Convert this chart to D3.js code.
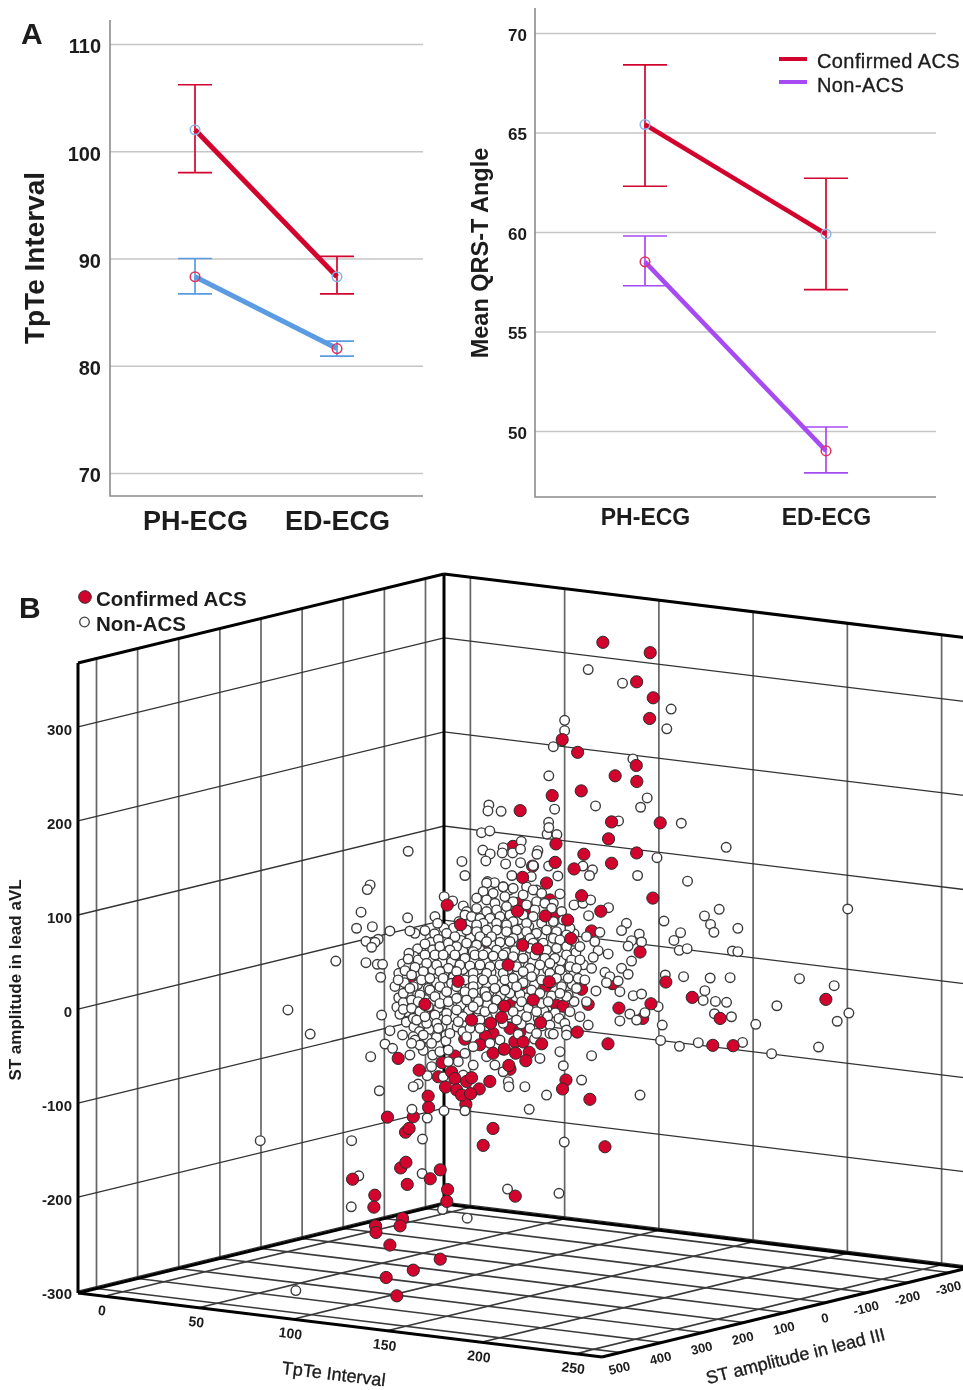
<!DOCTYPE html>
<html>
<head>
<meta charset="utf-8">
<style>
  html, body { margin: 0; padding: 0; background: #fff; }
  svg { display: block; font-family: "Liberation Sans", Arial, sans-serif; }
</style>
</head>
<body>
<svg id="chart" width="963" height="1390"></svg>
<script src="https://d3js.org/d3.v7.min.js"></script>
<script>

// panel A
var visits = ["PH-ECG", "ED-ECG"];

var tpteTicks = [70, 80, 90, 100, 110];
var tpteConfirmed = [102, 88.3],
    tpteConfirmedLow = [98, 86.7],
    tpteConfirmedHigh = [106.2, 90.2];
var tpteNonAcs = [88.3, 81.6],
    tpteNonAcsLow = [86.7, 80.9],
    tpteNonAcsHigh = [90, 82.3];

var angleTicks = [50, 55, 60, 65, 70];
var angleConfirmed = [65.4, 59.9],
    angleConfirmedLow = [62.3, 57.1],
    angleConfirmedHigh = [68.4, 62.7];
var angleNonAcs = [58.5, 49],
    angleNonAcsLow = [57.3, 47.9],
    angleNonAcsHigh = [59.8, 50.2];

// panel B axes
var cubeTpteTicks = [0, 50, 100, 150, 200, 250];
var cubeLeadIIITicks = [500, 400, 300, 200, 100, 0, -100, -200, -300];
var cubeAvlTicks = [-300, -200, -100, 0, 100, 200, 300];

// panel B points. A 3D cloud only gives two readable numbers per point, so these
// are [TpTe, ST aVL] as read flat off the picture against the wall grid and the aVL axis
var acsBehind = [[41.3,61],[10.3,66],[27.2,26.6],[17.4,22],[40,24.5],[59,21],[62.5,5],[91.4,-10],[45.7,4],[49.2,3],
  [40.4,-7],[-1.2,-5.7],[21.9,5],[12,-26],[8,-29],[-3,-32],[5,-38],[-8.2,-50],[-15,-57],[-17,-72],[21,-64],
  [-2.4,-101.4],[-30.3,-114.6],[-34.4,-131],[42.2,116],[45.4,101],[64.3,83],[75.4,27],[25.4,112.5],[29.8,107],
  [-31.2,29],[-7.3,52],[-19.7,-1],[21,-20.5],[26.3,-24],[23.6,-34.7],[75.8,27.3],[22.6,173],[33,152]];

var nonAcs = [[62.5,361],[80.7,346.5],[106.5,319],[104.2,298],[50,307],[50,296],[44,279],[86.2,266],[41.6,248],
  [93.8,224.5],[90.3,214.6],[66.4,216],[44.7,212.5],[9.8,217],[9.3,210.7],[16.3,210.3],[78.6,200],[111.9,197.6],
  [41.5,198.6],[40.7,186],[41.6,193],[45.9,185.5],[5.9,187.6],[10.3,189.4],[27,178.4],[-33,167.8],[6.6,169],
  [17.4,171.6],[16.9,166],[10.5,165],[22.4,166],[26.6,170],[35.8,168.4],[35.3,164.6],[-4.5,157],[8.2,157.5],
  [18.7,154.3],[26.6,155.7],[33.3,152.5],[41.5,152],[59.7,152],[64.8,148],[63.2,142],[99,161],[88.7,142],
  [115.2,136],[46.4,141.5],[-2.9,142],[-53.2,132],[-54.7,127],[-58,103],[-33.3,97],[-13.9,119.5],[-9.4,115],
  [22,142],[32.3,140.8],[9.1,135.5],[12.8,134.4],[17.4,130],[20.6,126.6],[29.8,130],[35.1,126.6],
  [55,110.7],[59.7,112.5],[63.8,116],[73.3,107.8],[62.7,99.3],[102.7,93.6],
  // the dense middle of the cloud, filler read by eye where single circles cannot be told apart
  [-6,93],[-9,86],[-14,86],[0,92],[11,90],[17,93],[26,95],[31,88],[41,90],
  [-19,80],[-5,80],[0,76],[7,79],[16,78],[26,79],[38,77],[48,86],[55,80],
  [-21,71],[-14,72],[-5,73],[6,72],[12,68],[18,66],[28,70],[36,67],[43,69],[55,72],
  [-28,64],[-20,63],[-13,60],[-4,62],[5,63],[9,60],[19,60],[27,62],[35,60],[42,58],[48,60],[56,60],
  [-36,48],[-30,56],[-21,52],[-15,50],[-10,50],[-4,50],[2,52],[8,50],[14,51],[21,50],[26,49],[33,50],[38,48],[48,51],[60,47],
  [-38,38],[-33,44],[-27,37],[-20,42],[-14,38],[-9,34],[-4,42],[4,42],[11,39],[20,42],[25,36],[34,40],[41,42],[49,36],[55,38],
  [-40,24],[-35,28],[-28,26],[-18,28],[-12,25],[-5,26],[4,27],[9,25],[16,26],[28,28],[34,26],[43,28],[54,26],
  [-38,12],[-33,16],[-24,10],[-20,8],[-14,14],[-9,17],[-4,13],[3,12],[10,18],[16,14],[24,13],[30,12],[35,10],[43,14],[55,8],
  [-39,2],[-34,-3],[-28,2],[-24,-5],[-17,1],[-11,2],[-5,4],[-1,-2],[4,0],[9,5],[16,6],[26,3],[33,4],[39,-2],[45,-4],
  [-34,-14],[-30,-19],[-25,-16],[-20,-11],[-15,-18],[-9,-8],[-4,-8],[2,-14],[9,-9],[20,-6],[27,-16],[36,-10],[41,-8],[47,-10],
  [-27,-24],[-22,-22],[-13,-28],[-7,-19],[-4,-24],[34,-32],[38,-18],[-23,-31],[-18,-30],[-25,-44],[-20,-49],[-13,-34],
  [8.6,134],[12.1,123],[6.8,125],[3.3,118],[17.4,130],[22.7,128.4],[28,121.3],[33.3,126.7],[37.8,123],[47.5,122.4],[44,112.5],
  [-3.8,109.6],[-2,103.6],[3.3,107],[8.6,116],[13,112.5],[18.3,119.6],[22.7,114.2],[29.8,110.7],[35.1,114.2],[39.5,112.5],
  [48.4,103.6],[19.2,109],[8.6,103.6],[13.9,105.4],[34.2,105.4],[43.1,107.2],
  [-18.8,98.3],[-17.4,91.2],[-2.9,100],[0.6,98.3],[5.1,96.5],[10.4,96.5],[15.7,98.3],[21,100],[28,100],[33.3,98.3],
  [37.8,91.2],[44,93],[49.3,94.7],[6.8,91.2],[13.9,91.2],[22.7,93],[29.8,91.2],[3.3,89.4],[52.8,85.9],[19.2,89.4],
  [-24.1,83.4],[-29.4,80.5],[-32.1,83],[-42.7,83],[-60.4,85.9],[-52,87.6],[-17,74.2],[-12.6,80.5],[-8.2,77],[-2,84],
  [3.3,82.3],[8.6,84],[13.9,84],[19.2,82.3],[24.5,84],[29.8,82.3],[35.1,80.5],[40.4,84],[45.7,82.3],[51,78.8],
  [5.1,77],[11.2,77],[22.7,75.2],[31.6,75.2],[44,75.2],[47.5,73.5],[61.6,77],[68.7,81.6],[66,71.7],[82.8,91.2],
  [80.2,83.4],[89.6,79.8],[85.5,72.7],[90.8,71.3],[83.7,67],
  [-55.4,72],[-48.9,74.2],[-50.6,71],[-52.4,65.7],[-24.1,69.2],[-16.2,66.4],[-11.7,70],[-7.3,66.4],[-2,70],[3.3,68.1],
  [8.6,71.7],[15.7,71],[21,71.7],[33.3,70],[38.6,70],[45.7,64.6],[51,66.4],[58.1,66.4],[67.8,62.1],[73.1,58.6],
  [-10.9,62.8],[1.5,61],[13.9,62.8],[23.6,62.1],[31.6,64.6],[40.4,62.8],
  [-32.6,59.3],[-33,53.2],[-27.7,52.2],[-24.1,57.5],[-18.8,57.5],[-14.4,57.5],[-8.2,57.5],[-2.9,54],[2.4,57.5],[6.8,57.5],
  [12.1,56.4],[17.4,57.5],[22.7,55.7],[28,54],[34.2,57.5],[39.5,54],[44.8,54],[51,57.5],[53.7,52.2],[58.1,52.2],
  [65.2,55],[85.5,51],[-55.4,49.3],[-49.4,47.6],[-46.6,47.6],
  [-34.7,40.8],[-29.4,44.4],[-23.2,48.6],[-17.9,46.9],[-11.7,43.3],[-5.6,46.9],[-0.2,45.8],[5.1,46.9],[10.4,45],[15.7,46.9],
  [24.5,45],[31.6,43.3],[36.9,46.9],[42.2,48.6],[47.5,41.5],[52.8,45],[56.3,43.3],[64.3,43.3],[80.2,43.3],[83.7,37],
  [71.4,39],[-47.6,33.7],[-25,39.8],[-16.2,39.8],[-7.3,39.8],[1.5,38],[8.6,38],[17.4,38],[28,39.8],[42.2,38],
  [-38.3,30.9],[-31.2,36.2],[-25.9,30.9],[-21.5,32.7],[-14.4,32.7],[-10,27.3],[-2.9,30.9],[1.5,30.9],[6.8,30.9],[12.1,30.9],
  [18.3,30.9],[22.7,32.7],[32.5,34.4],[37.8,30.9],[45.7,32.7],[51.9,32.7],[57.2,32.7],[60.7,30.9],[74,34.4],[72.2,28],
  [78.4,29.8],[-30.3,23.8],[-22.3,22],[-16.2,23.8],[1.5,23.8],
  [-35.6,16.7],[-32.1,22],[-26.8,15],[-21.5,20.2],[-12.6,18.5],[-7.3,23.8],[-2.9,18.5],[1.5,16.7],[7.7,18.5],[13,22],
  [21,16.7],[26.3,15.6],[32.5,20.2],[36.9,16.7],[48.4,23.8],[51.9,15],[56.3,22],[66.6,19.2],[79.3,18.5],[24.5,23.8],[18.3,20.2],
  [-35.6,6.8],[-31.2,9.6],[-27.7,7.8],[-18.8,13.2],[-16.2,6],[-11.7,7.8],[-7.3,11.4],[-2,9.6],[4.2,7.8],[8.6,13.2],
  [13.9,9.6],[27.2,7.8],[37.8,6],[41.3,7.8],[51,13.2],[47.5,16.7],[86.4,14.2],[90.8,16],[61.6,7.8],
  [-47.1,-6.4],[-37.4,-5.6],[-35.6,-0.3],[-31.2,0.7],[-26.8,-2.8],[-22.3,2.5],[-18.8,-6.4],[-12.6,-4.6],[-7.3,-1],[1.5,2.5],
  [7.7,-2.8],[12.1,0.7],[22.7,-2.8],[30.7,0.7],[35.1,-2.8],[52.8,-2.8],[84.6,-5.3],[92.6,-3.9],[88.2,-11.7],[79.3,-12.7],
  [99.6,2.5],[-30.3,-9.9],
  [-23.2,-15.2],[-17.9,-15.2],[-12.6,-11.7],[-6.4,-13.5],[-0.2,-20.5],[5.1,-11.7],[17.4,-15.2],[24.5,-11.7],[29.8,-8.1],
  [42.2,-17],[50.1,-15.2],[58.1,-8.1],[62.5,-17],[-42.7,-23],[-28.5,-11.7],[-24.1,-8.1],
  [-36,-27.6],[-30.3,-29.4],[-25,-27.6],[-17,-20.5],[-10.9,-25.9],[-2,-29.4],[5.1,-20.5],[25.4,-26.9],[31.6,-20.5],
  [35.1,-25.9],[42.2,-25.9],[51,-22.3],[44,-26.6],[51,-27.6],[-20.6,-36.5],[-29.4,-33],
  [-45.3,-37.2],[-41.3,-41.8],[-26.8,-38.3],[-31.2,-36.5],[-16.2,-45.4],[-11.7,-43.6],[1.5,-40],[10.4,-36.5],[15.7,-33],
  [17.4,-43.6],[23.6,-45.4],
  [-52.9,-50.7],[-32.1,-48.9],[-20.6,-61.3],[-11.7,-56],[-6.4,-56],[1.5,-59.6],[8.6,-50.7],[13,-59.6],[17.4,-66.7],
  [36.9,-52.5],[47.5,-45.4],[49.3,-60.3],[64.3,-49.6],[-2.9,-47.1],
  [-22.9,-70.9],[-27.7,-79.8],[-30.3,-82.6],[-3.8,-70.2],[-14.4,-72],[20.1,-77.3],[20.4,-82.6],[28.9,-82.6],[40.4,-91.5],
  [59,-75.5],[-48.3,-86.9],[90,-91.5],
  [31.2,-106.7],[-14,-108.2],[-31,-106.7],[-22.9,-116],[-2.9,-108.2],[-25.4,-138.3],[-63,-140],[49.8,-141.5],
  [-111.5,-140],[-59.2,-177.4],[-25.6,-175],[19.7,-191.5],[47,-196],[-63.2,-210.3],[-14.8,-213.2],[-1.7,-222.4],[-92.6,-299.4],
  [135.7,172],[200.2,106.4],[132,106],[124.2,99],[127.4,90],[129.2,81.6],[141.9,85.8],[111.5,81.2],[108,73],[110.8,62.4],
  [115,64.2],[139,61.7],[141.9,61],[103.4,36.2],[113.1,34.4],[127.2,33],[137.8,33.3],[174.6,32.3],[193,24.8],[124.4,19.5],
  [123.5,9.2],[130,8.1],[135.9,7.1],[162.6,3.5],[129.5,-5],[138.5,-8.2],[101.8,-17],[151.4,-16.3],[200.8,-4.3],[194.6,-13],
  [100.9,-33.4],[110.9,-39.7],[120.9,-35.8],[144.4,-35.5],[159.8,-47.5],[184.7,-40.4],
  [-96.8,-1],[-85,-26.6],[-71.4,51]];

var acsFront = [[70.3,390],[95.4,379],[88.2,348],[97,331],[95.1,309],[48.7,286.5],[56.9,273],[88,259],[76.8,248],[88.3,242],
  [58.8,232],[43.4,227],[26.4,211],[74.9,199],[100.7,198],[73.3,181],[45.4,175.6],[88.2,166],[60.2,164.6],[45,156],
  [74.9,155],[55,149],[27.7,140],[40.4,134],[59,120.5],[96.8,118],[69.2,104],[-12.3,110.6],[25,104],[39.7,99],
  [51.6,94.7],[-5.2,89.7],[53.3,75],[27.7,67.8],[35.6,64],[90,60.6],[20,46.8],[-6.5,29.5],[41.8,29],[33.3,9.6],
  [-24.1,5],[78.8,1],[95.8,5.6],[18,3],[0.6,-11.7],[16.5,-9],[37.2,-14.5],[10.7,-15],[56.7,-24.5],[28,-35],
  [37.8,-37],[73,-37],[18,-42.6],[12,-47],[24,-47],[31.2,-46],[29.4,-55],[-38.3,-52.5],[-27.2,-65],[20.4,-60],
  [-10,-67],[-8.2,-74],[-2,-77],[0.6,-73],[10.3,-77],[50.7,-75.5],[48.9,-85],[4.7,-85],[-13.2,-83],[-7.3,-86],
  [-4.7,-91.5],[0.1,-90],[63.4,-96],[-22.4,-92.6],[-22.2,-104.6],[-44,-115],[-32.5,-127],[12,-127],[6.8,-145],[71.4,-146.5],
  [-62.5,-181],[-37,-169],[-34.2,-163],[-33.5,-186.5],[-16,-171],[-21.3,-180.5],[-12.1,-192],[-12.5,-204.6],[23.8,-199],
  [-50.7,-198],[-51.2,-210.7],[-36,-222.7],[-37.3,-230.6],[-50.3,-230.6],[-50.1,-237.6],[-42.7,-251],[-16,-266],
  [-30.3,-277.7],[-44.7,-285.5],[-39,-305],[103.7,28.7],[117.7,12.4],[188.6,10.3],[132.5,-10],[128.6,-38.6],[139.4,-39]];

var acsRed = "#d2042d", nonAcsBlue = "#5a9be2", nonAcsPurple = "#a64bf4", markerBlue = "#86b6ec", markerRed = "#e2335c",
    ink = "#1c1c1c";

var svg = d3.select("#chart");
var page = svg.append("g").style("filter", "blur(0.4px)");

function label(text, x, y, size, opts) {
  opts = opts || {};
  var t = page.append("text")
      .attr("transform", "translate(" + x + "," + y + ") rotate(" + (opts.rotate || 0) + ")")
      .attr("text-anchor", opts.anchor || "middle")
      .attr("font-size", size)
      .attr("font-weight", opts.weight || "bold")
      .attr("fill", ink)
      .text(text);
  // the figure's medium weight sits between regular and bold
  if (opts.weight) t.attr("stroke", ink).attr("stroke-width", 0.35);
  return t;
}

// one means plot: grid, axes, error bars, mean lines and the hollow markers
function meansPlot(cfg) {
  var g = page.append("g");
  var y = d3.scaleLinear().domain(cfg.yDomain).range(cfg.yRange);
  var x = d3.scalePoint().domain(visits).range(cfg.xRange);

  var yAxis = g.append("g")
      .attr("transform", "translate(" + cfg.left + ",0)")
      .call(d3.axisLeft(y).tickValues(cfg.ticks).tickSize(-(cfg.right - cfg.left)).tickPadding(cfg.tickPad));
  yAxis.select(".domain").remove();
  yAxis.selectAll("line").attr("stroke", "#c6c6c6").attr("stroke-width", 1.6);
  yAxis.selectAll("text").attr("font-family", "Liberation Sans").attr("font-size", cfg.tickSize)
      .attr("font-weight", "bold").attr("fill", ink).attr("dy", "0.44em");

  var xAxis = g.append("g")
      .attr("transform", "translate(0," + cfg.bottom + ")")
      .call(d3.axisBottom(x).tickSize(0).tickPadding(cfg.catPad));
  xAxis.select(".domain").remove();
  xAxis.selectAll("text").attr("font-family", "Liberation Sans").attr("font-size", cfg.catSize)
      .attr("font-weight", "bold").attr("fill", ink);

  g.append("path")
      .attr("d", "M" + cfg.left + "," + cfg.top + "V" + cfg.bottom + "H" + cfg.right)
      .attr("fill", "none").attr("stroke", "#8c8c8c").attr("stroke-width", 1.6);

  var line = d3.line().x(function(d, i) { return x(visits[i]); }).y(function(d) { return y(d); });

  cfg.series.forEach(function(s) {
    var bars = g.append("g").attr("stroke", s.color).attr("stroke-width", 1.7);
    visits.forEach(function(v, i) {
      bars.append("line").attr("x1", x(v)).attr("x2", x(v)).attr("y1", y(s.low[i])).attr("y2", y(s.high[i]));
      [s.low[i], s.high[i]].forEach(function(c) {
        bars.append("line").attr("x1", x(v) - cfg.cap).attr("x2", x(v) + cfg.cap).attr("y1", y(c)).attr("y2", y(c));
      });
    });
    g.append("path").attr("d", line(s.mean)).attr("fill", "none").attr("stroke", s.color).attr("stroke-width", cfg.lineWidth);
    g.selectAll(null).data(s.mean).enter().append("circle")
        .attr("cx", function(d, i) { return x(visits[i]); })
        .attr("cy", function(d) { return y(d); })
        .attr("r", 4.8)
        .attr("fill", "none")
        .attr("stroke", s.marker)
        .attr("stroke-width", 1.5);
  });
}

meansPlot({
  yDomain: [70, 110], yRange: [473, 44], ticks: tpteTicks, xRange: [195, 337],
  left: 110, right: 423, top: 20, bottom: 496, tickPad: 9, tickSize: 20, catPad: 15, catSize: 27, cap: 17, lineWidth: 5,
  series: [
    {mean: tpteConfirmed, low: tpteConfirmedLow, high: tpteConfirmedHigh, color: acsRed, marker: markerBlue},
    {mean: tpteNonAcs, low: tpteNonAcsLow, high: tpteNonAcsHigh, color: nonAcsBlue, marker: markerRed}
  ]
});

meansPlot({
  yDomain: [50, 70], yRange: [431, 33], ticks: angleTicks, xRange: [645, 826],
  left: 535, right: 936, top: 8, bottom: 497, tickPad: 8, tickSize: 17, catPad: 12, catSize: 23, cap: 22, lineWidth: 4.5,
  series: [
    {mean: angleConfirmed, low: angleConfirmedLow, high: angleConfirmedHigh, color: acsRed, marker: markerBlue},
    {mean: angleNonAcs, low: angleNonAcsLow, high: angleNonAcsHigh, color: nonAcsPurple, marker: markerRed}
  ]
});

label("A", 21, 44, 30, {anchor: "start"});
label("TpTe Interval", 44, 258, 28, {rotate: -90});
label("Mean QRS-T Angle", 488, 253, 23.5, {rotate: -90});

// legend of the means plots
page.append("line").attr("x1", 779).attr("x2", 807).attr("y1", 59).attr("y2", 59).attr("stroke", acsRed).attr("stroke-width", 4);
page.append("line").attr("x1", 779).attr("x2", 807).attr("y1", 82).attr("y2", 82).attr("stroke", nonAcsPurple).attr("stroke-width", 4);
label("Confirmed ACS", 817, 68, 20, {anchor: "start", weight: 500}).attr("letter-spacing", 0.4);
label("Non-ACS", 817, 92, 20, {anchor: "start", weight: 500}).attr("letter-spacing", 0.4);

// panel B: the box is a plain oblique projection of the three axes
var backX = 444, backY = 1204, floorLeftY = 1293;
var tpteX = d3.scaleLinear().domain([-14, 264]).range([0, 524]),
    tpteY = d3.scaleLinear().domain([-14, 264]).range([0, 64]),
    leadX = d3.scaleLinear().domain([-345, 545]).range([0, -366]),
    leadY = d3.scaleLinear().domain([-345, 545]).range([0, 89]),
    avlY = d3.scaleLinear().domain([-302, 368]).range([0, -630]);

function project(t, s, z) {
  return [backX + tpteX(t) + leadX(s), backY + tpteY(t) + leadY(s) + avlY(z)];
}

var tMin = -14, tMax = 264, sBack = -345, sFront = 545, zMin = -302, zMax = 368;
var cube = page.append("g").attr("fill", "none");
var seg = d3.line();

function edge(a, b, width, color) {
  cube.append("path").attr("d", seg([a, b])).attr("stroke", color).attr("stroke-width", width);
}

// floor
cubeTpteTicks.forEach(function(t) {
  edge(project(t, sFront, zMin), project(t, sBack, zMin), 1.7, "#3a3a3a");
  edge(project(t, sBack, zMin), project(t, sBack, zMax), 1.7, "#666");
});
cubeLeadIIITicks.forEach(function(s) {
  edge(project(tMin, s, zMin), project(tMax, s, zMin), 1.7, "#3a3a3a");
  edge(project(tMin, s, zMin), project(tMin, s, zMax), 1.7, "#666");
});
// walls
cubeAvlTicks.forEach(function(z) {
  edge(project(tMin, sFront, z), project(tMin, sBack, z), 1.3, "#333");
  edge(project(tMin, sBack, z), project(tMax, sBack, z), 1.3, "#333");
});
// heavy frame
edge(project(tMin, sFront, zMin), project(tMin, sFront, zMax), 3, "#000");
edge(project(tMin, sBack, zMin), project(tMin, sBack, zMax), 3, "#000");
edge(project(tMin, sFront, zMax), project(tMin, sBack, zMax), 3, "#000");
edge(project(tMin, sBack, zMax), project(tMax, sBack, zMax), 3, "#000");
edge(project(tMin, sFront, zMin), project(tMin, sBack, zMin), 3, "#000");
edge(project(tMin, sBack, zMin), project(tMax, sBack, zMin), 3, "#000");
edge(project(tMin, sFront, zMin), project(tMax, sFront, zMin), 3, "#000");
edge(project(tMax, sFront, zMin), project(tMax, sBack, zMin), 3, "#000");

// tick labels
cubeAvlTicks.forEach(function(z) {
  var p = project(tMin, sFront, z);
  label(z, p[0] - 6, p[1] + 8, 15, {anchor: "end"});
});
cubeTpteTicks.forEach(function(t) {
  var p = project(t, sFront, zMin);
  label(t, p[0] - 3, p[1] + 19, 14, {rotate: 7});
});
cubeLeadIIITicks.forEach(function(s) {
  var p = project(tMax, s, zMin);
  label(s, p[0], p[1] + 20, 13, {rotate: -14});
});

label("ST amplitude in lead aVL", 21, 980, 17, {rotate: -90});
label("TpTe Interval", 333, 1380, 18, {rotate: 7, weight: 500});
label("ST amplitude in lead III", 797, 1362, 18, {rotate: -14, weight: 500});

// points, read flat against the tpte ticks and the aVL axis
function pointX(d) { return backX + tpteX(d[0]); }
function pointY(d) { return floorLeftY + avlY(d[1]); }

function dots(data, fill, r, stroke, width) {
  page.append("g").selectAll("circle").data(data).enter().append("circle")
      .attr("cx", pointX)
      .attr("cy", pointY)
      .attr("r", r)
      .attr("fill", fill)
      .attr("stroke", stroke)
      .attr("stroke-width", width);
}

dots(acsBehind, acsRed, 6.1, "#2a2a2a", 1);
dots(nonAcs, "#fff", 4.8, "#3c3c3c", 1.4);
dots(acsFront, acsRed, 6.1, "#2a2a2a", 1);

// legend of the 3D plot
page.append("circle").attr("cx", 85).attr("cy", 597).attr("r", 6.3).attr("fill", acsRed).attr("stroke", "#2a2a2a");
page.append("circle").attr("cx", 84.5).attr("cy", 622).attr("r", 4.8).attr("fill", "#fff").attr("stroke", "#404040").attr("stroke-width", 1.3);
label("Confirmed ACS", 96, 606, 20.5, {anchor: "start"});
label("Non-ACS", 96, 631, 20.5, {anchor: "start"});
label("B", 19, 618, 30, {anchor: "start"});

</script>
</body>
</html>
